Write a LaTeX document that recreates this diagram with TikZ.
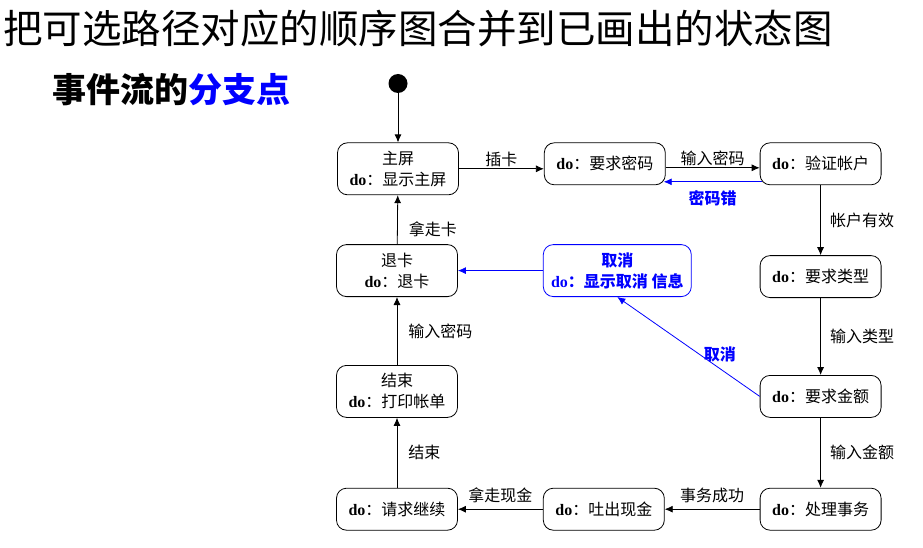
\documentclass[tikz,border=0pt]{standalone}
\usepackage{fontspec}
\setmainfont{Noto Sans CJK SC}
\newfontfamily\dofont{Liberation Serif}
\usepackage{xcolor}
\usepackage{tikz}
\usetikzlibrary{positioning,arrows.meta}
\newcommand{\dotxt}{{\dofont\bfseries do}：}

\begin{document}
\begin{tikzpicture}[node distance=70pt, line width=0.8pt]
    % 样式
    \tikzstyle{state}=[rectangle, rounded corners=10pt, minimum width=121pt, minimum height=42pt, inner sep=2pt, align=center, draw=black, font=\fontsize{16}{21}\selectfont]
    \tikzstyle{tall}=[minimum height=52pt]
    \tikzstyle{trans}=[-{Latex[length=8pt,width=7pt]}]
    \tikzstyle{lbl}=[font=\fontsize{16}{18}\selectfont, inner sep=2pt]
    \tikzstyle{err}=[draw=blue, text=blue]

    \useasboundingbox (0,0) rectangle (923pt,-548pt);

    % 标题
    \node (title) [anchor=west, inner sep=0pt, font=\fontsize{39.5}{42}\selectfont] at (3pt,-28.5pt) {把可选路径对应的顺序图合并到已画出的状态图};
    \node (subtitle) [anchor=west, inner sep=0pt, font=\fontsize{34}{36}\selectfont\bfseries] at (52pt,-90pt) {事件流的\textcolor{blue}{分支点}};

    % 节点
    \node (start) [circle, fill=black, minimum size=19pt, inner sep=0pt] at (398pt,-83.5pt) {};
    \node (home) [state, tall, below=49pt of start] {主屏\\\dotxt 显示主屏};
    \node (pin) [state, right=85pt of home.north east, anchor=north west] {\dotxt 要求密码};
    \node (verify) [state, right=94pt of pin] {\dotxt 验证帐户};
    \node (type) [state, below=70pt of verify] {\dotxt 要求类型};
    \node (amount) [state, below=77pt of type] {\dotxt 要求金额};
    \node (process) [state, below=70pt of amount] {\dotxt 处理事务};
    \node (cashout) [state, left=95pt of process] {\dotxt 吐出现金};
    \node (continue) [state, left=85pt of cashout] {\dotxt 请求继续};
    \node (end) [state, tall, above=70pt of continue] {结束\\\dotxt 打印帐单};
    \node (exit) [state, tall, above=68pt of end] {退卡\\\dotxt 退卡};
    \node (cancel) [state, tall, err, minimum width=148pt, right=85pt of exit, font=\fontsize{16}{21}\selectfont\bfseries] {取消\\\dotxt 显示取消 信息};

    % 连线
    \draw [trans] (start) -- (home);
    \draw [trans] (home.east) -- (home.east -| pin.west) node [lbl, midway, above=0pt] {插卡};
    \draw [trans] ([yshift=-4pt]pin.east) -- ([yshift=-4pt]verify.west) node [lbl, midway, above=0pt] {输入密码};
    \draw [trans, err] ([shift={(2pt,-18pt)}]verify.west) -- ([shift={(-2pt,-18pt)}]pin.east) node [lbl, midway, below=6pt, font=\fontsize{16}{18}\selectfont\bfseries] {密码错};
    \draw [trans] (verify) -- (type) node [lbl, midway, right=7pt] {帐户有效};
    \draw [trans] (type) -- (amount) node [lbl, midway, right=7pt] {输入类型};
    \draw [trans] (amount) -- (process) node [lbl, midway, right=7pt] {输入金额};
    \draw [trans] (process) -- (cashout) node [lbl, midway, above=4pt] {事务成功};
    \draw [trans] (cashout) -- (continue) node [lbl, midway, above=4pt] {拿走现金};
    \draw [trans] (continue) -- (end) node [lbl, midway, right=9pt] {结束};
    \draw [trans] (end) -- (exit) node [lbl, midway, right=9pt] {输入密码};
    \draw [trans] (exit) -- (home) node [lbl, pos=0.3, right=9pt] {拿走卡};
    \draw [trans, err] (cancel) -- (exit);
    \draw [trans, err] (amount.west) -- (cancel.south) node [lbl, pos=0.28, above=4pt, font=\fontsize{16}{18}\selectfont\bfseries] {取消};
\end{tikzpicture}
\end{document}
